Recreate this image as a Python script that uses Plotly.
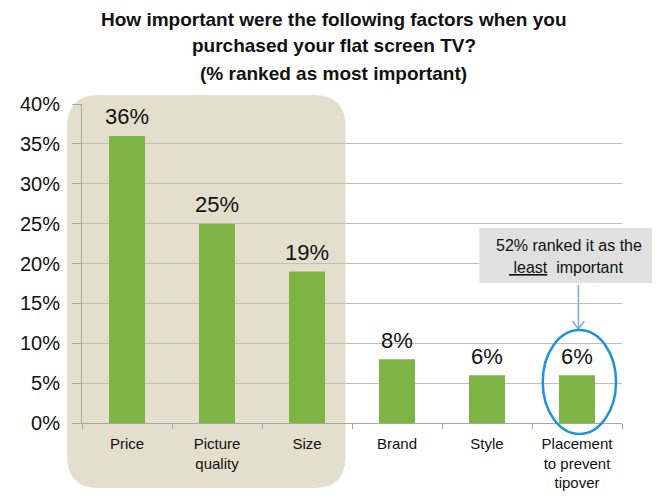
import plotly.graph_objects as go

categories = ["Price", "Picture<br>quality", "Size", "Brand", "Style", "Placement<br>to prevent<br>tipover"]
values = [36, 25, 19, 8, 6, 6]
labels = ["36%", "25%", "19%", "8%", "6%", "6%"]
y_ticks = [0, 5, 10, 15, 20, 25, 30, 35, 40]
y_tick_labels = ["0%", "5%", "10%", "15%", "20%", "25%", "30%", "35%", "40%"]
title_lines = ["How important were the following factors when you",
               "purchased your flat screen TV?",
               "(% ranked as most important)"]

FONT = "Liberation Sans, Arial"
W, H = 660, 501
OFF = 8  # page body margin of the browser
L, T = 77, 104          # plot area top-left on the photographed page
pw, ph = 545, 319       # plot area size

def px(x):
    return (x - L) / pw

def py(y):
    return (T + ph - y) / ph

fig = go.Figure()
fig.add_trace(go.Bar(
    x=categories, y=values,
    marker=dict(color="#7db443", line=dict(width=0)),
    width=0.4, hoverinfo="skip",
))

# rounded beige highlight box
x0, x1, y0, y1 = px(62), px(343), py(488), py(95)
rx, ry = 32 / pw, 32 / ph
path = (f"M {x0+rx},{y0} L {x1-rx},{y0} Q {x1},{y0} {x1},{y0+ry} "
        f"L {x1},{y1-ry} Q {x1},{y1} {x1-rx},{y1} L {x0+rx},{y1} "
        f"Q {x0},{y1} {x0},{y1-ry} L {x0},{y0+ry} Q {x0},{y0} {x0+rx},{y0} Z")
shapes = [
    dict(type="path", path=path, xref="paper", yref="paper", layer="below",
         fillcolor="#e3dfcc", line=dict(width=0)),
    dict(type="rect", xref="paper", yref="paper", x0=px(478), x1=px(662),
         y0=py(283), y1=py(228), fillcolor="#e0e0e0", line=dict(width=0), layer="above"),
    dict(type="line", xref="paper", yref="paper", x0=px(578), x1=px(578),
         y0=py(285), y1=py(329), line=dict(color="#7fa9d6", width=1.5)),
    dict(type="line", xref="paper", yref="paper", x0=px(572), x1=px(578),
         y0=py(321), y1=py(329), line=dict(color="#7fa9d6", width=1.5)),
    dict(type="line", xref="paper", yref="paper", x0=px(584), x1=px(578),
         y0=py(321), y1=py(329), line=dict(color="#7fa9d6", width=1.5)),
    dict(type="circle", xref="paper", yref="paper", x0=px(542), x1=px(616),
         y0=py(434), y1=py(330), line=dict(color="#1f93d5", width=2.5)),
]

annotations = []
for i, line in enumerate(title_lines):
    annotations.append(dict(
        text=f"<b>{line}</b>", xref="paper", yref="paper",
        x=px(331), y=py(19 + 27 * i), xanchor="center", yanchor="middle",
        showarrow=False, font=dict(size=19, color="#111111", family=FONT)))
for c, v, t in zip(categories, values, labels):
    annotations.append(dict(
        text=t, x=c, y=v, xref="x", yref="y", yshift=19, xanchor="center",
        yanchor="middle", showarrow=False,
        font=dict(size=22, color="#111111", family=FONT)))
annotations += [
    dict(text="52% ranked it as the", xref="paper", yref="paper", x=px(569), y=py(245),
         xanchor="center", yanchor="middle", showarrow=False,
         font=dict(size=16, color="#111111", family=FONT)),
    dict(text="<u> least</u>  important", xref="paper", yref="paper", x=px(565), y=py(267),
         xanchor="center", yanchor="middle", showarrow=False,
         font=dict(size=16, color="#111111", family=FONT)),
]

fig.update_layout(
    width=W, height=H,
    margin=dict(l=L - OFF, r=W - (L - OFF) - pw, t=T - OFF, b=H - (T - OFF) - ph),
    paper_bgcolor="white", plot_bgcolor="rgba(0,0,0,0)",
    showlegend=False, shapes=shapes, annotations=annotations,
    font=dict(family=FONT, color="#111111"),
)
fig.update_xaxes(
    showline=True, linecolor="#a6a6a6", linewidth=1,
    ticks="outside", tickson="boundaries", ticklen=5, tickcolor="#a6a6a6",
    ticklabelstandoff=7,
    tickfont=dict(size=15, family=FONT, color="#111111"), showgrid=False,
)
fig.update_yaxes(
    range=[0, 40], tickvals=y_ticks, ticktext=y_tick_labels,
    showline=True, linecolor="#a6a6a6", linewidth=1,
    ticks="outside", ticklen=9, tickcolor="#a6a6a6",
    ticklabelstandoff=8,
    showgrid=True, gridcolor="#bfbfbf", gridwidth=1, zeroline=False,
    tickfont=dict(size=20, family=FONT, color="#111111"),
)

fig.write_html("out.html")
